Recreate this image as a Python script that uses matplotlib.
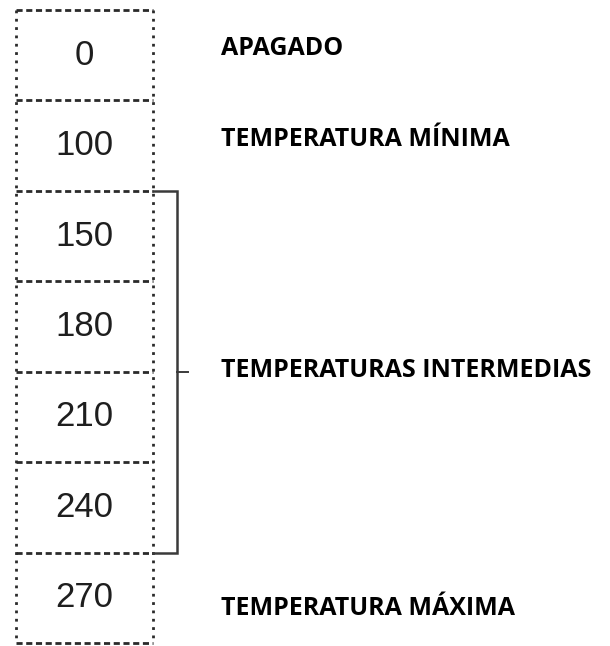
import numpy as np
import matplotlib.pyplot as plt

# cell values, top to bottom
values = [0, 100, 150, 180, 210, 240, 270]

# labels on the right: (text, row position)
labels = ['APAGADO', 'TEMPERATURA MÍNIMA', 'TEMPERATURAS INTERMEDIAS', 'TEMPERATURA MÁXIMA']
label_rows = [0.43, 1.43, 3.99, 6.62]

# bracket spans rows 2..5 (150 to 240)
bracket_start = 2
bracket_end = 6

W, H = 610, 646
fig = plt.figure(figsize=(W / 100, H / 100), dpi=100)
ax = fig.add_axes([0, 0, 1, 1])
ax.set_xlim(0, W)
# pixel layout: top border at 10 px, rows ~90.4 px tall
top, bottom = 10, 643
row_h = (bottom - top) / len(values)
ax.set_ylim(len(values) + (H - bottom) / row_h, -top / row_h)
ax.axis('off')

x0, x1 = 16, 153
line_col = '#2a2a2a'

# vertical dotted borders
for x in (x0, x1):
    ax.plot([x, x], [0, len(values)], color=line_col, lw=2.0,
            linestyle=(0, (1, 2.0)), solid_capstyle='butt')

# horizontal dashed separators
for i in range(len(values) + 1):
    ax.plot([x0, x1], [i, i], color=line_col, lw=2.0,
            linestyle=(0, (2.2, 1.3)))

# numbers
for i, v in enumerate(values):
    ax.text((x0 + x1) / 2, i + 0.5, str(v), ha='center', va='center',
            fontsize=25, family='Liberation Sans', color='#1e1e1e')

# bracket
bx = 177
ax.plot([x1, bx, bx, x1], [bracket_start, bracket_start, bracket_end, bracket_end],
        color='#3a3a3a', lw=1.8, solid_joinstyle='miter')
mid = (bracket_start + bracket_end) / 2
ax.plot([bx, bx + 11], [mid, mid], color='#3a3a3a', lw=1.4)

# labels
for txt, r in zip(labels, label_rows):
    ax.text(221, r, txt, ha='left', va='center', fontsize=18,
            family='Open Sans', fontweight='bold', color='black')

fig.savefig('out.png', dpi=100, facecolor='white')
